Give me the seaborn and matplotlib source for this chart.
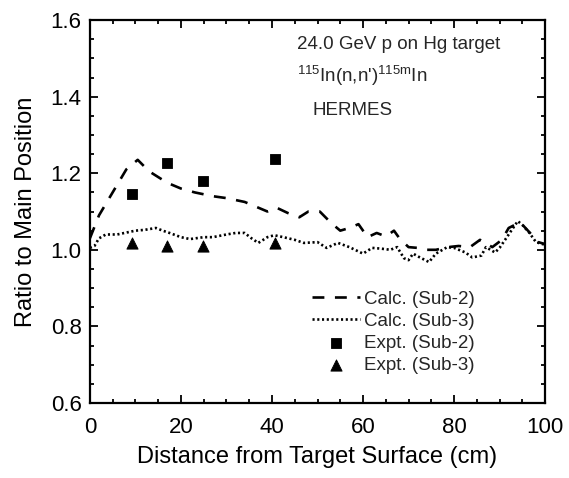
import numpy as np
import pandas as pd
import matplotlib
matplotlib.use("Agg")
import matplotlib.pyplot as plt
import seaborn as sns
from matplotlib.ticker import MultipleLocator

sns.set_theme(style="ticks")
plt.rcParams['font.family'] = ['Liberation Sans', 'DejaVu Sans']
plt.rcParams['mathtext.fontset'] = 'custom'
plt.rcParams['mathtext.rm'] = 'Liberation Sans'

# Calculated ratio, Sub-2
calc2_x = [0, 2, 3.5, 6, 8, 10.5, 13, 15, 17, 20, 23, 27, 30, 32, 34, 37, 39, 41, 43.5, 46, 48,
           50.5, 53, 55, 57, 59, 61, 63, 65, 66.8, 68, 70, 72, 74, 76, 78.7, 81, 83.5, 85.7,
           88.4, 90.5, 92, 94.5, 96.7, 98.5, 100]
calc2_y = [1.03, 1.09, 1.12, 1.17, 1.21, 1.235, 1.205, 1.19, 1.175, 1.16, 1.15, 1.14, 1.135, 1.13,
           1.125, 1.11, 1.10, 1.11, 1.096, 1.085, 1.10, 1.10, 1.07, 1.05, 1.057, 1.067, 1.033, 1.044,
           1.035, 1.05, 1.03, 1.007, 1.005, 1.0, 1.0, 1.007, 1.01, 1.007, 1.026, 1.007, 1.026, 1.057,
           1.072, 1.044, 1.02, 1.015]
# Calculated ratio, Sub-3
calc3_x = [0, 1, 2, 3.5, 6, 8, 10, 12, 14.5, 16, 17.5, 20, 22, 25, 27, 30, 32, 34, 35.5, 37, 39,
           40.5, 42.5, 45, 47, 50, 52, 54.5, 57, 60, 62, 64, 66, 67.5, 69, 70, 71, 72.5, 74.5, 76,
           78.5, 80, 82.5, 84, 86, 87, 89, 90, 92, 94, 95, 96.5, 98, 100]
calc3_y = [1.005, 1.01, 1.03, 1.04, 1.04, 1.045, 1.05, 1.052, 1.057, 1.05, 1.044, 1.033, 1.028,
           1.033, 1.033, 1.04, 1.044, 1.044, 1.03, 1.018, 1.033, 1.038, 1.033, 1.026, 1.018, 1.02,
           1.005, 1.018, 1.007, 0.99, 1.005, 1.003, 1.0, 1.007, 0.978, 0.973, 0.99, 0.98, 0.968,
           0.99, 1.007, 1.005, 0.993, 0.98, 0.985, 1.007, 0.993, 1.005, 1.04, 1.075, 1.065, 1.045,
           1.02, 1.013]
# Experimental points
expt_x = [9.2, 17.0, 24.9, 40.7]
expt2_y = [1.146, 1.227, 1.18, 1.237]
expt3_y = [1.018, 1.01, 1.01, 1.018]

fig = plt.figure(figsize=(5.69, 4.78), dpi=100)
ax = fig.add_axes([0.158, 0.157, 0.800, 0.801])

df2 = pd.DataFrame({"x": calc2_x, "y": calc2_y})
df3 = pd.DataFrame({"x": calc3_x, "y": calc3_y})
sns.lineplot(data=df2, x="x", y="y", ax=ax, color="black", lw=1.9,
             label="Calc. (Sub-2)", sort=False)
ax.lines[-1].set_dashes((4.5, 4))
sns.lineplot(data=df3, x="x", y="y", ax=ax, color="black", lw=1.9,
             label="Calc. (Sub-3)", sort=False)
ax.lines[-1].set_dashes((0.8, 1.0))

de2 = pd.DataFrame({"x": expt_x, "y": expt2_y})
de3 = pd.DataFrame({"x": expt_x, "y": expt3_y})
sns.scatterplot(data=de2, x="x", y="y", ax=ax, marker="s", s=58, color="black",
                edgecolor="black", label="Expt. (Sub-2)")
sns.scatterplot(data=de3, x="x", y="y", ax=ax, marker="^", s=65, color="black",
                edgecolor="black", label="Expt. (Sub-3)")

ax.set_xlim(0, 100)
ax.set_ylim(0.6, 1.6)
ax.xaxis.set_major_locator(MultipleLocator(20))
ax.xaxis.set_minor_locator(MultipleLocator(5))
ax.yaxis.set_major_locator(MultipleLocator(0.2))
ax.yaxis.set_minor_locator(MultipleLocator(0.05))
ax.yaxis.set_major_formatter(matplotlib.ticker.FormatStrFormatter('%.1f'))
ax.tick_params(which="both", direction="in", top=True, right=True, labelsize=16,
               width=1.3, color="black", labelcolor="black")
ax.tick_params(which="major", length=6)
ax.tick_params(which="minor", length=3)
ax.tick_params(axis="x", which="major", pad=10)
ax.tick_params(axis="y", which="major", pad=6)
for sp in ax.spines.values():
    sp.set_linewidth(1.6)
    sp.set_color("black")

ax.set_xlabel("Distance from Target Surface (cm)", fontsize=17, color="black", labelpad=6)
ax.set_ylabel("Ratio to Main Position", fontsize=17, color="black", labelpad=10)

ax.text(45.5, 1.535, "24.0 GeV p on Hg target", fontsize=13.5, va="center", ha="left")
ax.text(45.5, 1.456, r"$^{115}$In(n,n')$^{115\mathrm{m}}$In", fontsize=13.5, va="center", ha="left")
ax.text(48.8, 1.365, "HERMES", fontsize=13.5, va="center", ha="left")

leg = ax.legend(loc="lower right", bbox_to_anchor=(0.845, 0.075), frameon=False,
                fontsize=13.5, handlelength=2.55, handletextpad=0.2, labelspacing=0.27,
                borderpad=0, borderaxespad=0)

fig.savefig("out.png", dpi=100)
